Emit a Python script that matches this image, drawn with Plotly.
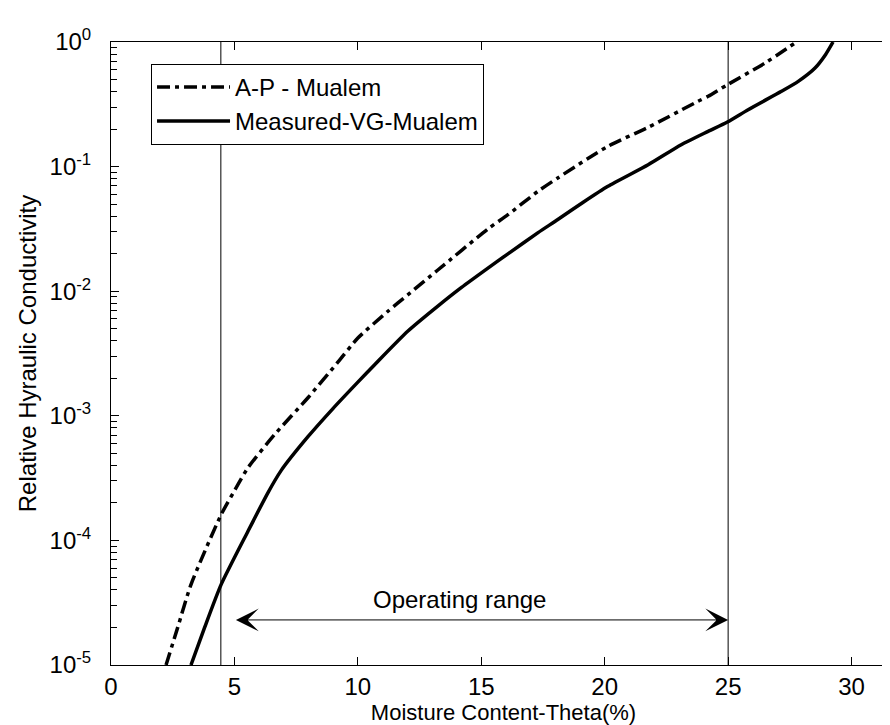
import math
import plotly.graph_objects as go

# ---- data ----
theta_vg = [3.24, 3.79, 4.46, 5.54, 6.35, 6.89, 7.97, 9.0, 10.0, 10.68, 12.03, 13.24,
            14.2, 15.27, 16.08, 17.3, 18.1, 19.1, 20.13, 21.76, 23.1, 24.19, 24.97,
            25.81, 27.16, 27.84, 28.52, 28.95, 29.25]
logk_vg = [-5.0, -4.70, -4.355, -3.93, -3.62, -3.44, -3.17, -2.94, -2.73, -2.59,
           -2.32, -2.12, -1.97, -1.815, -1.70, -1.53, -1.425, -1.29, -1.158, -0.985,
           -0.824, -0.717, -0.642, -0.543, -0.396, -0.316, -0.209, -0.10, 0.0]

theta_ap = [2.23, 2.70, 3.24, 4.46, 5.14, 5.54, 6.62, 7.97, 9.19, 10.0, 11.22, 12.03,
            13.24, 15.27, 16.08, 17.3, 18.1, 20.13, 21.76, 23.78, 24.19, 24.97, 26.49, 27.77]
logk_ap = [-5.0, -4.70, -4.355, -3.794, -3.553, -3.419, -3.152, -2.857, -2.57, -2.376,
           -2.161, -2.028, -1.83, -1.50, -1.386, -1.198, -1.091, -0.837, -0.685, -0.476,
           -0.436, -0.343, -0.169, 0.0]

k_vg = [10 ** v for v in logk_vg]
k_ap = [10 ** v for v in logk_ap]

operating_range = [4.45, 25.0]      # vertical lines (theta %)
arrow_range = [5.0, 25.0]           # double arrow extent (theta %)
arrow_level = 2.3e-5                # arrow height (relative K)
label_pos = [14.1, 3.36e-5]         # "Operating range" text position

x_ticks = [0, 5, 10, 15, 20, 25, 30]
y_exps = [-5, -4, -3, -2, -1, 0]
y_ticks = [10.0 ** e for e in y_exps]
y_ticktext = ["10<sup>%d</sup>" % e for e in y_exps]
y_minor = [k * 10.0 ** e for e in y_exps[:-1] for k in range(2, 10)]

FONT = "Liberation Sans, Arial, sans-serif"
FS = 24

fig = go.Figure()
fig.add_trace(go.Scatter(
    x=theta_ap, y=k_ap, mode="lines", name="A-P - Mualem", legendgroup="a",
    line=dict(color="black", width=3.5, dash="13px,5px,4px,5px",
              shape="spline", smoothing=0.6)))
fig.add_trace(go.Scatter(
    x=theta_vg, y=k_vg, mode="lines", name="Measured-VG-Mualem", legendgroup="b",
    line=dict(color="black", width=3.5, shape="spline", smoothing=0.6)))

shapes = []
for xv in operating_range:
    shapes.append(dict(type="line", xref="x", yref="paper", x0=xv, x1=xv, y0=0, y1=1,
                       line=dict(color="black", width=1)))

annotations = [
    dict(x=arrow_range[1], y=math.log10(arrow_level), ax=arrow_range[0],
         ay=math.log10(arrow_level), xref="x", yref="y", axref="x", ayref="y",
         text="", showarrow=True, arrowhead=3, startarrowhead=3, arrowside="end+start",
         arrowsize=3.8, startarrowsize=3.8, arrowwidth=1, arrowcolor="black",
         standoff=0, startstandoff=0),
    dict(x=label_pos[0], y=math.log10(label_pos[1]), xref="x", yref="y",
         text="Operating range", showarrow=False,
         font=dict(family=FONT, size=FS, color="black")),
]

fig.update_layout(
    width=890, height=725,
    margin=dict(l=103, r=2, t=34, b=68),
    paper_bgcolor="white", plot_bgcolor="white",
    font=dict(family=FONT, color="black"),
    shapes=shapes, annotations=annotations,
    showlegend=True,
    legend=dict(x=0.051, y=0.965, xanchor="left", yanchor="top",
                bgcolor="white", bordercolor="black", borderwidth=1,
                font=dict(family=FONT, size=FS, color="black"),
                itemwidth=73, tracegroupgap=0),
    xaxis=dict(range=[0, 31.8], tickmode="array", tickvals=x_ticks,
               ticks="inside", ticklen=8, tickcolor="black",
               showline=True, linecolor="black", linewidth=1, mirror="ticks",
               showgrid=False, zeroline=False, automargin=False,
               tickfont=dict(family=FONT, size=FS, color="black"),
               title=dict(text="Moisture Content-Theta(%)", standoff=0,
                          font=dict(family=FONT, size=22, color="black"))),
    yaxis=dict(type="log", range=[-5, 0], tickmode="array", tickvals=y_ticks,
               ticktext=y_ticktext, ticks="inside", ticklen=8, tickcolor="black",
               minor=dict(tickmode="array", tickvals=y_minor, ticks="inside",
                          ticklen=6, tickcolor="black", showgrid=False),
               showline=True, linecolor="black", linewidth=1, mirror="ticks",
               showgrid=False, zeroline=False, automargin=False,
               ticklabelstandoff=14,
               tickfont=dict(family=FONT, size=FS, color="black"),
               title=dict(text="Relative Hyraulic Conductivity", standoff=6,
                          font=dict(family=FONT, size=FS, color="black"))),
)

fig.write_html("out.html")
